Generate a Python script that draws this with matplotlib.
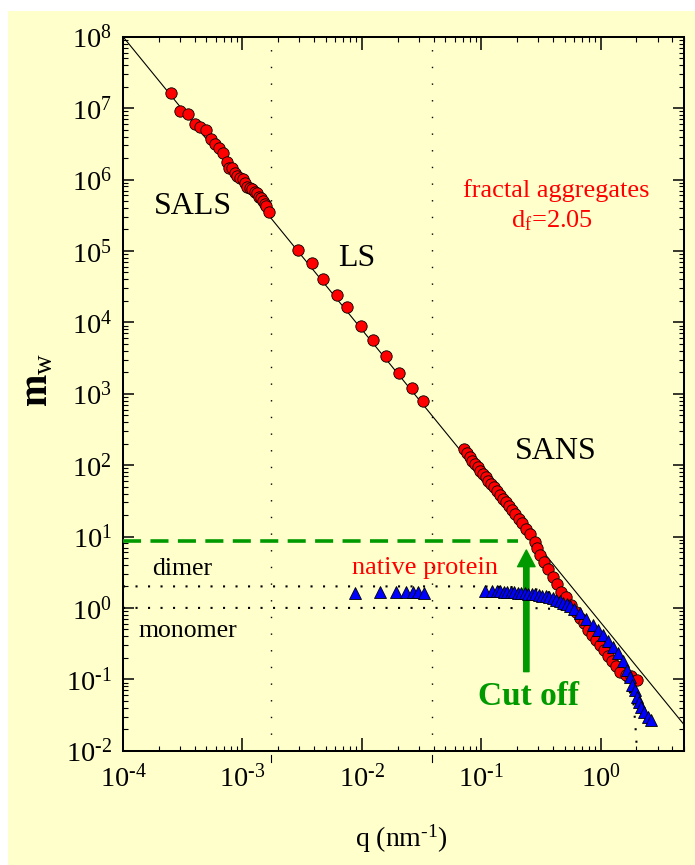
import numpy as np
import matplotlib
matplotlib.use("Agg")
import matplotlib.pyplot as plt
from matplotlib.patches import Rectangle
from matplotlib.ticker import LogLocator, FuncFormatter, NullFormatter
from matplotlib.transforms import blended_transform_factory

plt.rcParams["font.family"] = ["Liberation Serif", "DejaVu Serif"]
plt.rcParams["mathtext.fontset"] = "custom"
plt.rcParams["mathtext.rm"] = "Liberation Serif"
plt.rcParams["mathtext.it"] = "Liberation Serif:italic"
plt.rcParams["mathtext.bf"] = "Liberation Serif:bold"

CREAM = "#FFFFCC"
GREEN = "#009A00"

# --- data -----------------------------------------------------------------
# red circles, SALS range
sals_q = [2.51e-4, 3.0e-4, 3.48e-4, 4.0e-4, 4.43e-4, 4.95e-4, 5.42e-4, 5.89e-4,
          6.35e-4, 6.91e-4, 7.37e-4, 7.76e-4, 8.22e-4, 8.65e-4, 9.06e-4, 9.6e-4,
          1.02e-3, 1.06e-3, 1.10e-3, 1.16e-3, 1.21e-3, 1.27e-3, 1.33e-3, 1.38e-3,
          1.44e-3, 1.49e-3, 1.55e-3, 1.59e-3, 1.67e-3]
sals_m = [1.61e7, 9.2e6, 8.36e6, 5.93e6, 5.43e6, 4.88e6, 3.73e6, 3.14e6,
          2.76e6, 2.38e6, 1.74e6, 1.47e6, 1.43e6, 1.25e6, 1.13e6, 1.06e6,
          1.03e6, 9.0e5, 7.77e5, 7.69e5, 7.28e5, 6.76e5, 6.4e5, 5.75e5,
          5.45e5, 4.95e5, 4.59e5, 4.21e5, 3.54e5]

# red circles, LS range
ls_q = [2.95e-3, 3.82e-3, 4.69e-3, 6.18e-3, 7.59e-3, 9.86e-3, 1.24e-2, 1.59e-2,
        2.05e-2, 2.61e-2, 3.26e-2]
ls_m = [1.04e5, 6.84e4, 4.08e4, 2.44e4, 1.62e4, 8.87e3, 5.6e3, 3.37e3,
        1.97e3, 1.21e3, 7.8e2]

# red circles, SANS range
sans_q = [0.0724, 0.0761, 0.0802, 0.0844, 0.0887, 0.0935, 0.0985, 0.1035,
          0.109, 0.1149, 0.1208, 0.1273, 0.1348, 0.1428, 0.1513, 0.1603,
          0.1699, 0.180, 0.1917, 0.206, 0.2212, 0.2388, 0.258, 0.2804,
          0.293, 0.3087, 0.3334, 0.3622, 0.3989, 0.4309, 0.469, 0.5095,
          0.5685, 0.6262, 0.6673, 0.7207, 0.7828, 0.8457, 0.9083, 0.981,
          1.06, 1.151, 1.253, 1.353, 1.462, 1.619, 1.807, 2.013]
sans_m = [166.5, 146.3, 131.1, 115.2, 103.6, 93.1, 83.5, 75.1,
          67.5, 60.5, 54.4, 48.9, 43.4, 38.5, 33.8, 30.1,
          26.7, 23.5, 20.7, 17.8, 15.3, 12.9, 10.7, 8.46,
          6.84, 5.51, 4.44, 3.47, 2.74, 2.16, 1.69, 1.44,
          1.10, 0.885, 0.715, 0.609, 0.490, 0.417, 0.355, 0.302,
          0.257, 0.212, 0.182, 0.1536, 0.1278, 0.1149, 0.1112, 0.0977]

# blue triangles, native protein
native_q = [0.00874, 0.01434, 0.01926, 0.02366, 0.0269, 0.0296, 0.0330,
            0.107, 0.124, 0.1348, 0.1442, 0.1543, 0.1651, 0.1766, 0.1889,
            0.2020, 0.2161, 0.2312, 0.2473, 0.2646, 0.2830, 0.3028, 0.3239,
            0.3465, 0.3707, 0.3965, 0.4242, 0.4538, 0.4856, 0.5194, 0.5556,
            0.5943, 0.667, 0.759, 0.862, 0.949, 1.045, 1.151, 1.267, 1.396,
            1.537, 1.660, 1.748, 1.842, 1.925, 2.013, 2.092, 2.191, 2.334,
            2.488, 2.657]
native_m = [1.63, 1.67, 1.67, 1.67, 1.65, 1.65, 1.63,
            1.74, 1.74, 1.71, 1.70, 1.69, 1.68, 1.67, 1.66,
            1.64, 1.62, 1.61, 1.59, 1.57, 1.55, 1.52, 1.49,
            1.46, 1.42, 1.37, 1.31, 1.24, 1.19, 1.12, 1.05,
            0.97, 0.840, 0.692, 0.576, 0.490, 0.417, 0.347, 0.286, 0.231,
            0.182, 0.135, 0.109, 0.083, 0.0708, 0.057, 0.0485, 0.0413, 0.0352,
            0.0299, 0.0269]

# dotted model curves
monomer_q = [1e-4, 0.1, 0.3, 0.45, 0.55, 0.7, 0.9, 1.1, 1.3, 1.5, 1.7,
             1.85, 1.9, 1.95, 2.0, 2.04]
monomer_m = [1.0, 1.0, 0.99, 0.96, 0.90, 0.75, 0.50, 0.32, 0.20, 0.13,
             0.075, 0.055, 0.042, 0.025, 0.013, 0.007]
dimer_q = [1e-4, 0.1, 0.2, 0.3, 0.4, 0.5]
dimer_m = [2.0, 2.0, 1.95, 1.8, 1.6, 1.35]

# fractal power law d_f = 2.05 (straight line on log-log)
fractal_q = [1e-4, 5.0]
fractal_m = [1e8, 0.0232]

boundaries_q = [1.72e-3, 0.0387]   # SALS/LS and LS/SANS
cutoff_m = 8.65
cutoff_q_end = 0.203
arrow_q = 0.239
arrow_m = [0.128, 6.47]

# --- figure -----------------------------------------------------------------
fig = plt.figure(figsize=(6.95, 8.65), dpi=100, facecolor="white")
fig.patches.append(Rectangle((8 / 695, 0), 1 - 8 / 695, 1 - 11 / 865,
                             transform=fig.transFigure, facecolor=CREAM,
                             edgecolor="none", zorder=-10))
ax = fig.add_axes([123 / 695, 1 - 750.7 / 865, 561 / 695, 714 / 865])
ax.set_facecolor(CREAM)
ax.set_xscale("log")
ax.set_yscale("log")
ax.set_xlim(1e-4, 5.0)
ax.set_ylim(1e-2, 1e8)

ax.plot(fractal_q, fractal_m, color="black", lw=0.8, zorder=2)

for qb in boundaries_q:
    ax.axvline(qb, color="black", lw=1.0, ls=(0, (1, 11)), zorder=1)
    tr = blended_transform_factory(ax.transData, ax.transAxes)
    ax.plot([qb, qb], [-0.006, -0.016], color="black", lw=0.8,
            transform=tr, clip_on=False)

ax.plot(monomer_q, monomer_m, color="black", lw=1.5, ls=(0, (1, 5)), zorder=1)
ax.plot(dimer_q, dimer_m, color="black", lw=1.5, ls=(0, (1, 5)), zorder=1)

ax.plot([1e-4, cutoff_q_end], [cutoff_m, cutoff_m], color=GREEN, lw=2.6,
        ls=(0, (5, 2.6)), zorder=3)

ax.annotate("", xy=(arrow_q, arrow_m[1]), xytext=(arrow_q, arrow_m[0]),
            arrowprops=dict(arrowstyle="simple,head_length=1.0,head_width=1.05,tail_width=0.32",
                            color=GREEN, shrinkA=0, shrinkB=0, mutation_scale=12),
            zorder=3)

mk = dict(ls="none", markeredgecolor="black", markeredgewidth=0.6, zorder=4)
ax.plot(sals_q, sals_m, marker="o", ms=8.2, markerfacecolor="#FF0000", **mk)
ax.plot(ls_q, ls_m, marker="o", ms=8.2, markerfacecolor="#FF0000", **mk)
ax.plot(sans_q, sans_m, marker="o", ms=8.2, markerfacecolor="#FF0000", **mk)
ax.plot(native_q, native_m, marker="^", ms=8.5, markerfacecolor="#0000FF", **mk)

# annotations
kw = dict(transform=ax.transAxes, va="baseline", ha="center")
ax.text(0.1239, 0.7512, "SALS", fontsize=23, **kw)
ax.text(0.4171, 0.6793, "LS", fontsize=23, **kw)
ax.text(0.7718, 0.4081, "SANS", fontsize=23, **kw)
ax.text(0.7718, 0.7751, "fractal aggregates", fontsize=19, color="#FF0000", **kw)
ax.text(0.7647, 0.7335, r"d$_\mathregular{f}$=2.05", fontsize=19, color="#FF0000", **kw)
ax.text(0.5392, 0.2475, "native protein", fontsize=19, color="#FF0000", **kw)
ax.text(0.1057, 0.2461, "dimer", fontsize=18.5, **kw)
ax.text(0.1159, 0.1588, "monomer", fontsize=18.5, **kw)
ax.text(0.7225, 0.0640, "Cut off", fontsize=24, fontweight="bold", color=GREEN, **kw)


def _pow10(v, pos):
    e = int(round(np.log10(v)))
    if e < 0:
        return r"$\mathregular{10^{\text{-}%d}}$" % (-e)
    return r"$\mathregular{10^{%d}}$" % e


# axes styling
fmt = FuncFormatter(_pow10)
for axis in (ax.xaxis, ax.yaxis):
    axis.set_major_locator(LogLocator(base=10, numticks=20))
    axis.set_minor_locator(LogLocator(base=10, subs=np.arange(2, 10), numticks=20))
    axis.set_major_formatter(fmt)
    axis.set_minor_formatter(NullFormatter())

ax.tick_params(which="both", direction="in", top=True, right=True, labelsize=20.5)
ax.tick_params(axis="x", which="major", length=9.5, width=1.1, pad=10)
ax.tick_params(axis="y", which="major", length=7.7, width=1.1, pad=8)
ax.tick_params(which="minor", length=3.6, width=0.8)
for s in ax.spines.values():
    s.set_linewidth(1.45)

fig.text(0.578, 1 - 846.7 / 865, r"q (nm$^\mathregular{\text{-}1}$)", fontsize=20,
         ha="center", va="baseline")
fig.text(38 / 695, 1 - 380 / 865, r"$\mathbf{m}_\mathregular{w}$", fontsize=28,
         rotation=90, ha="center", va="center")

fig.savefig("out.png", dpi=100, facecolor=fig.get_facecolor())
